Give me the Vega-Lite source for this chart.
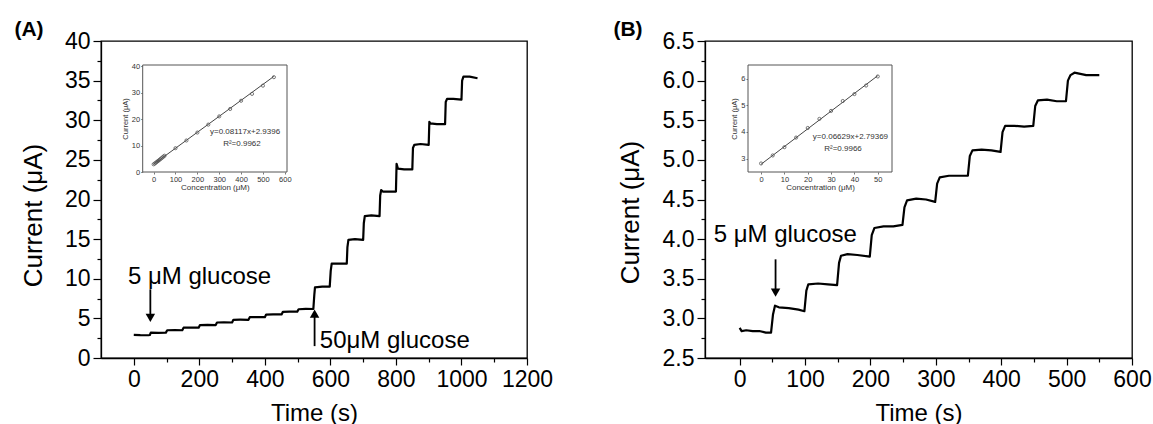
{
  "$schema": "https://vega.github.io/schema/vega-lite/v6.json",
  "padding": {"left": 13, "top": 18, "right": 3, "bottom": 0},
  "background": "white",
  "config": {
    "font": "Liberation Sans",
    "view": {"stroke": "black", "strokeWidth": 1.3},
    "axis": {"domainColor": "black", "domainWidth": 1.3, "tickColor": "black", "tickWidth": 1.2, "labelColor": "black", "titleColor": "black", "grid": false, "labelFont": "Liberation Sans", "titleFont": "Liberation Sans", "titleFontWeight": "normal", "labelFlush": false, "labelOverlap": false}
  },
  "datasets": {
    "traceA": [
      {"t": 0, "i": 2.92}, {"t": 20, "i": 2.88}, {"t": 45, "i": 2.87}, {"t": 49, "i": 2.9}, {"t": 52, "i": 3.2}, {"t": 75, "i": 3.18}, {"t": 98, "i": 3.2},
      {"t": 102, "i": 3.5}, {"t": 125, "i": 3.52}, {"t": 148, "i": 3.5}, {"t": 152, "i": 3.83}, {"t": 175, "i": 3.85}, {"t": 198, "i": 3.83},
      {"t": 202, "i": 4.15}, {"t": 225, "i": 4.17}, {"t": 250, "i": 4.15}, {"t": 254, "i": 4.48}, {"t": 275, "i": 4.5}, {"t": 300, "i": 4.48},
      {"t": 304, "i": 4.82}, {"t": 325, "i": 4.83}, {"t": 350, "i": 4.82}, {"t": 354, "i": 5.15}, {"t": 375, "i": 5.17}, {"t": 400, "i": 5.15},
      {"t": 404, "i": 5.48}, {"t": 425, "i": 5.5}, {"t": 451, "i": 5.5}, {"t": 455, "i": 5.82}, {"t": 475, "i": 5.85}, {"t": 499, "i": 5.85},
      {"t": 503, "i": 6.15}, {"t": 525, "i": 6.2}, {"t": 548, "i": 6.18}, {"t": 551, "i": 8.0}, {"t": 553, "i": 8.9}, {"t": 575, "i": 9.0}, {"t": 598, "i": 9.0},
      {"t": 601, "i": 11.0}, {"t": 604, "i": 11.9}, {"t": 625, "i": 11.9}, {"t": 650, "i": 11.9}, {"t": 652, "i": 14.0}, {"t": 655, "i": 14.9}, {"t": 675, "i": 15.0}, {"t": 700, "i": 14.9},
      {"t": 702, "i": 17.0}, {"t": 705, "i": 17.9}, {"t": 725, "i": 18.0}, {"t": 750, "i": 17.9}, {"t": 752, "i": 20.5}, {"t": 755, "i": 21.2}, {"t": 760, "i": 21.0}, {"t": 800, "i": 21.0},
      {"t": 802, "i": 24.5}, {"t": 806, "i": 23.9}, {"t": 825, "i": 23.8}, {"t": 850, "i": 23.8}, {"t": 852, "i": 26.5}, {"t": 856, "i": 26.9}, {"t": 875, "i": 27.0}, {"t": 900, "i": 26.9},
      {"t": 902, "i": 29.8}, {"t": 905, "i": 29.6}, {"t": 925, "i": 29.5}, {"t": 950, "i": 29.5}, {"t": 952, "i": 32.3}, {"t": 956, "i": 32.7}, {"t": 975, "i": 32.7}, {"t": 1000, "i": 32.6},
      {"t": 1002, "i": 35.0}, {"t": 1006, "i": 35.5}, {"t": 1025, "i": 35.5}, {"t": 1049, "i": 35.3}
    ],
    "traceB": [
      {"t": 0, "i": 2.88}, {"t": 3, "i": 2.84}, {"t": 10, "i": 2.85}, {"t": 20, "i": 2.84}, {"t": 30, "i": 2.84}, {"t": 40, "i": 2.82}, {"t": 48, "i": 2.82},
      {"t": 51, "i": 3.05}, {"t": 54, "i": 3.16}, {"t": 60, "i": 3.14}, {"t": 75, "i": 3.13}, {"t": 90, "i": 3.11}, {"t": 99, "i": 3.09},
      {"t": 102, "i": 3.35}, {"t": 105, "i": 3.43}, {"t": 120, "i": 3.44}, {"t": 135, "i": 3.43}, {"t": 149, "i": 3.42},
      {"t": 152, "i": 3.7}, {"t": 155, "i": 3.79}, {"t": 165, "i": 3.81}, {"t": 180, "i": 3.8}, {"t": 199, "i": 3.78},
      {"t": 202, "i": 4.05}, {"t": 206, "i": 4.14}, {"t": 220, "i": 4.16}, {"t": 235, "i": 4.16}, {"t": 249, "i": 4.18},
      {"t": 252, "i": 4.4}, {"t": 256, "i": 4.49}, {"t": 270, "i": 4.51}, {"t": 285, "i": 4.5}, {"t": 299, "i": 4.47},
      {"t": 302, "i": 4.7}, {"t": 306, "i": 4.78}, {"t": 320, "i": 4.8}, {"t": 335, "i": 4.8}, {"t": 349, "i": 4.8},
      {"t": 352, "i": 5.05}, {"t": 356, "i": 5.12}, {"t": 370, "i": 5.13}, {"t": 385, "i": 5.12}, {"t": 399, "i": 5.1},
      {"t": 402, "i": 5.35}, {"t": 406, "i": 5.43}, {"t": 420, "i": 5.43}, {"t": 435, "i": 5.42}, {"t": 449, "i": 5.43},
      {"t": 452, "i": 5.68}, {"t": 456, "i": 5.75}, {"t": 470, "i": 5.76}, {"t": 485, "i": 5.74}, {"t": 499, "i": 5.74},
      {"t": 502, "i": 6.0}, {"t": 506, "i": 6.07}, {"t": 512, "i": 6.1}, {"t": 530, "i": 6.07}, {"t": 550, "i": 6.07}
    ],
    "calA": [
      {"c": 0, "i": 2.9}, {"c": 5, "i": 3.2}, {"c": 10, "i": 3.5}, {"c": 15, "i": 3.83}, {"c": 20, "i": 4.15}, {"c": 25, "i": 4.48}, {"c": 30, "i": 4.82},
      {"c": 35, "i": 5.15}, {"c": 40, "i": 5.48}, {"c": 45, "i": 5.82}, {"c": 50, "i": 6.15}, {"c": 100, "i": 9.0}, {"c": 150, "i": 11.9}, {"c": 200, "i": 14.9},
      {"c": 250, "i": 17.9}, {"c": 300, "i": 21.0}, {"c": 350, "i": 23.8}, {"c": 400, "i": 26.9}, {"c": 450, "i": 29.5}, {"c": 500, "i": 32.6}, {"c": 550, "i": 35.8}
    ],
    "fitA": [{"c": 0, "i": 2.94}, {"c": 550, "i": 36.1}],
    "eqA": [{"c": 418, "i": 15.2, "label": "y=0.08117x+2.9396"}, {"c": 404, "i": 10.7, "label": "R²=0.9962"}],
    "calB": [
      {"c": 0, "i": 2.82}, {"c": 5, "i": 3.12}, {"c": 10, "i": 3.43}, {"c": 15, "i": 3.79}, {"c": 20, "i": 4.15}, {"c": 25, "i": 4.49},
      {"c": 30, "i": 4.79}, {"c": 35, "i": 5.16}, {"c": 40, "i": 5.42}, {"c": 45, "i": 5.74}, {"c": 50, "i": 6.08}
    ],
    "fitB": [{"c": 0, "i": 2.79}, {"c": 50, "i": 6.11}],
    "eqB": [{"c": 38.3, "i": 3.81, "label": "y=0.06629x+2.79369"}, {"c": 35.1, "i": 3.36, "label": "R²=0.9966"}],
    "notesA": [{"t": 200.7, "i": 9.34, "label": "5 μM glucose"}, {"t": 796.5, "i": 1.29, "label": "50μM glucose"}],
    "arrowsA": [{"t": 50.6, "tail": 8.67, "head": 5.05, "shape": "triangle-down"}, {"t": 551.8, "tail": 1.5, "head": 5.59, "shape": "triangle-up"}],
    "notesB": [{"t": 69.8, "i": 3.967, "label": "5 μM glucose"}],
    "arrowsB": [{"t": 54.9, "tail": 3.745, "head": 3.324, "shape": "triangle-down"}]
  },
  "spacing": 178,
  "bounds": "flush",
  "hconcat": [
    {
      "width": 426,
      "height": 317,
      "layer": [
        {
          "layer": [
            {
              "data": {"name": "traceA"},
              "mark": {"type": "line", "color": "black", "strokeWidth": 2.2, "strokeJoin": "round"},
              "encoding": {
                "x": {"field": "t", "type": "quantitative", "scale": {"domain": [-100, 1200], "nice": false, "zero": false},
                  "axis": {"orient": "bottom", "title": "Time (s)", "values": [0, 200, 400, 600, 800, 1000, 1200], "format": "d",
                    "tickSize": 7, "labelOverlap": false, "labelFontSize": 23, "titleFontSize": 24, "labelPadding": 3, "titlePadding": 10}},
                "y": {"field": "i", "type": "quantitative", "scale": {"domain": [0, 40], "nice": false, "zero": false},
                  "axis": {"orient": "left", "title": "Current (μA)", "titleY": 174, "values": [0, 5, 10, 15, 20, 25, 30, 35, 40], "format": "d",
                    "tickSize": 8, "labelOverlap": false, "labelFontSize": 23, "titleFontSize": 26, "labelPadding": 3, "titlePadding": 18}}
              }
            },
            {
              "data": {"name": "arrowsA"},
              "mark": {"type": "rule", "color": "black", "strokeWidth": 1.8},
              "encoding": {
                "x": {"field": "t", "type": "quantitative",
                  "axis": {"orient": "bottom", "values": [100, 300, 500, 700, 900, 1100], "labels": false, "title": null, "domain": false, "tickSize": 4}},
                "y": {"field": "tail", "type": "quantitative",
                  "axis": {"orient": "left", "values": [2.5, 7.5, 12.5, 17.5, 22.5, 27.5, 32.5, 37.5], "labels": false, "title": null, "domain": false, "tickSize": 4}},
                "y2": {"field": "head"}
              }
            },
            {
              "data": {"name": "arrowsA"},
              "mark": {"type": "point", "filled": true, "color": "black", "size": 90, "opacity": 1},
              "encoding": {"x": {"field": "t", "type": "quantitative", "axis": null}, "y": {"field": "head", "type": "quantitative", "axis": null}, "shape": {"field": "shape", "type": "nominal", "scale": null}}
            },
            {
              "data": {"name": "notesA"},
              "mark": {"type": "text", "fontSize": 24, "align": "center", "baseline": "alphabetic", "color": "black"},
              "encoding": {"x": {"field": "t", "type": "quantitative", "axis": null}, "y": {"field": "i", "type": "quantitative", "axis": null}, "text": {"field": "label"}}
            },
            {
              "data": {"values": [{}]},
              "mark": {"type": "text", "text": "(A)", "fontSize": 21, "fontWeight": "bold", "align": "center", "baseline": "alphabetic", "dx": -72, "dy": -5, "color": "black"},
              "encoding": {"x": {"datum": -100, "type": "quantitative", "axis": null}, "y": {"datum": 40, "type": "quantitative", "axis": null}}
            }
          ],
          "resolve": {"axis": {"x": "independent", "y": "independent"}}
        },
        {
          "layer": [
            {
              "data": {"values": [{}]},
              "mark": {"type": "rect", "fill": "white", "stroke": "#555555", "strokeWidth": 1},
              "encoding": {
                "x": {"datum": -50, "type": "quantitative", "scale": {"domain": [-50, 610], "range": [41.7, 186], "nice": false, "zero": false},
                  "axis": {"orient": "bottom", "offset": -186, "title": "Concentration (μM)", "values": [0, 100, 200, 300, 400, 500, 600], "format": "d", "domain": false,
                    "tickSize": 2, "tickColor": "#555555", "tickWidth": 0.8, "labelFontSize": 7.5, "titleFontSize": 8, "labelPadding": 1, "titlePadding": 1, "labelColor": "#333333", "titleColor": "#333333"}},
                "x2": {"datum": 610},
                "y": {"datum": 0, "type": "quantitative", "scale": {"domain": [0, 40.4], "range": [131, 24], "nice": false, "zero": false},
                  "axis": {"orient": "left", "offset": -41.7, "title": "Current (μA)", "values": [0, 10, 20, 30, 40], "format": "d", "domain": false,
                    "tickSize": 2, "tickColor": "#555555", "tickWidth": 0.8, "labelFontSize": 7.5, "titleFontSize": 7.5, "labelPadding": 1, "titlePadding": 2, "labelColor": "#333333", "titleColor": "#333333"}},
                "y2": {"datum": 40.4}
              }
            },
            {
              "data": {"name": "fitA"},
              "mark": {"type": "line", "color": "#444444", "strokeWidth": 1},
              "encoding": {"x": {"field": "c", "type": "quantitative"}, "y": {"field": "i", "type": "quantitative"}}
            },
            {
              "data": {"name": "calA"},
              "mark": {"type": "point", "shape": "circle", "filled": false, "color": "#555555", "size": 10, "strokeWidth": 0.8, "opacity": 1},
              "encoding": {"x": {"field": "c", "type": "quantitative"}, "y": {"field": "i", "type": "quantitative"}}
            },
            {
              "data": {"name": "eqA"},
              "mark": {"type": "text", "fontSize": 8, "align": "center", "baseline": "middle", "color": "#333333"},
              "encoding": {"x": {"field": "c", "type": "quantitative"}, "y": {"field": "i", "type": "quantitative"}, "text": {"field": "label"}}
            }
          ]
        }
      ],
      "resolve": {"scale": {"x": "independent", "y": "independent"}, "axis": {"x": "independent", "y": "independent"}}
    },
    {
      "width": 427,
      "height": 317,
      "layer": [
        {
          "layer": [
            {
              "data": {"name": "traceB"},
              "mark": {"type": "line", "color": "black", "strokeWidth": 2.2, "strokeJoin": "round"},
              "encoding": {
                "x": {"field": "t", "type": "quantitative", "scale": {"domain": [-53, 600], "nice": false, "zero": false},
                  "axis": {"orient": "bottom", "title": "Time (s)", "values": [0, 100, 200, 300, 400, 500, 600], "format": "d",
                    "tickSize": 7, "labelOverlap": false, "labelFontSize": 23, "titleFontSize": 24, "labelPadding": 3, "titlePadding": 10}},
                "y": {"field": "i", "type": "quantitative", "scale": {"domain": [2.5, 6.5], "nice": false, "zero": false},
                  "axis": {"orient": "left", "title": "Current (μA)", "titleY": 171, "values": [2.5, 3, 3.5, 4, 4.5, 5, 5.5, 6, 6.5], "format": ".1f",
                    "tickSize": 8, "labelOverlap": false, "labelFontSize": 23, "titleFontSize": 26, "labelPadding": 3, "titlePadding": 19}}
              }
            },
            {
              "data": {"name": "arrowsB"},
              "mark": {"type": "rule", "color": "black", "strokeWidth": 1.8},
              "encoding": {
                "x": {"field": "t", "type": "quantitative",
                  "axis": {"orient": "bottom", "values": [50, 150, 250, 350, 450, 550], "labels": false, "title": null, "domain": false, "tickSize": 4}},
                "y": {"field": "tail", "type": "quantitative",
                  "axis": {"orient": "left", "values": [2.75, 3.25, 3.75, 4.25, 4.75, 5.25, 5.75, 6.25], "labels": false, "title": null, "domain": false, "tickSize": 4}},
                "y2": {"field": "head"}
              }
            },
            {
              "data": {"name": "arrowsB"},
              "mark": {"type": "point", "filled": true, "color": "black", "size": 90, "opacity": 1},
              "encoding": {"x": {"field": "t", "type": "quantitative", "axis": null}, "y": {"field": "head", "type": "quantitative", "axis": null}, "shape": {"field": "shape", "type": "nominal", "scale": null}}
            },
            {
              "data": {"name": "notesB"},
              "mark": {"type": "text", "fontSize": 24, "align": "center", "baseline": "alphabetic", "color": "black"},
              "encoding": {"x": {"field": "t", "type": "quantitative", "axis": null}, "y": {"field": "i", "type": "quantitative", "axis": null}, "text": {"field": "label"}}
            },
            {
              "data": {"values": [{}]},
              "mark": {"type": "text", "text": "(B)", "fontSize": 21, "fontWeight": "bold", "align": "center", "baseline": "alphabetic", "dx": -77, "dy": -5, "color": "black"},
              "encoding": {"x": {"datum": -53, "type": "quantitative", "axis": null}, "y": {"datum": 6.5, "type": "quantitative", "axis": null}}
            }
          ],
          "resolve": {"axis": {"x": "independent", "y": "independent"}}
        },
        {
          "layer": [
            {
              "data": {"values": [{}]},
              "mark": {"type": "rect", "fill": "white", "stroke": "#555555", "strokeWidth": 1},
              "encoding": {
                "x": {"datum": -5.6, "type": "quantitative", "scale": {"domain": [-5.6, 56.1], "range": [43, 187], "nice": false, "zero": false},
                  "axis": {"orient": "bottom", "offset": -186, "title": "Concentration (μM)", "values": [0, 10, 20, 30, 40, 50], "format": "d", "domain": false,
                    "tickSize": 2, "tickColor": "#555555", "tickWidth": 0.8, "labelFontSize": 7.5, "titleFontSize": 8, "labelPadding": 1, "titlePadding": 1, "labelColor": "#333333", "titleColor": "#333333"}},
                "x2": {"datum": 56.1},
                "y": {"datum": 2.5, "type": "quantitative", "scale": {"domain": [2.5, 6.51], "range": [131, 24], "nice": false, "zero": false},
                  "axis": {"orient": "left", "offset": -43, "title": "Current (μA)", "values": [3, 4, 5, 6], "format": "d", "domain": false,
                    "tickSize": 2, "tickColor": "#555555", "tickWidth": 0.8, "labelFontSize": 7.5, "titleFontSize": 7.5, "labelPadding": 1, "titlePadding": 2, "labelColor": "#333333", "titleColor": "#333333"}},
                "y2": {"datum": 6.51}
              }
            },
            {
              "data": {"name": "fitB"},
              "mark": {"type": "line", "color": "#444444", "strokeWidth": 1},
              "encoding": {"x": {"field": "c", "type": "quantitative"}, "y": {"field": "i", "type": "quantitative"}}
            },
            {
              "data": {"name": "calB"},
              "mark": {"type": "point", "shape": "circle", "filled": false, "color": "#555555", "size": 10, "strokeWidth": 0.8, "opacity": 1},
              "encoding": {"x": {"field": "c", "type": "quantitative"}, "y": {"field": "i", "type": "quantitative"}}
            },
            {
              "data": {"name": "eqB"},
              "mark": {"type": "text", "fontSize": 8, "align": "center", "baseline": "middle", "color": "#333333"},
              "encoding": {"x": {"field": "c", "type": "quantitative"}, "y": {"field": "i", "type": "quantitative"}, "text": {"field": "label"}}
            }
          ]
        }
      ],
      "resolve": {"scale": {"x": "independent", "y": "independent"}, "axis": {"x": "independent", "y": "independent"}}
    }
  ]
}
